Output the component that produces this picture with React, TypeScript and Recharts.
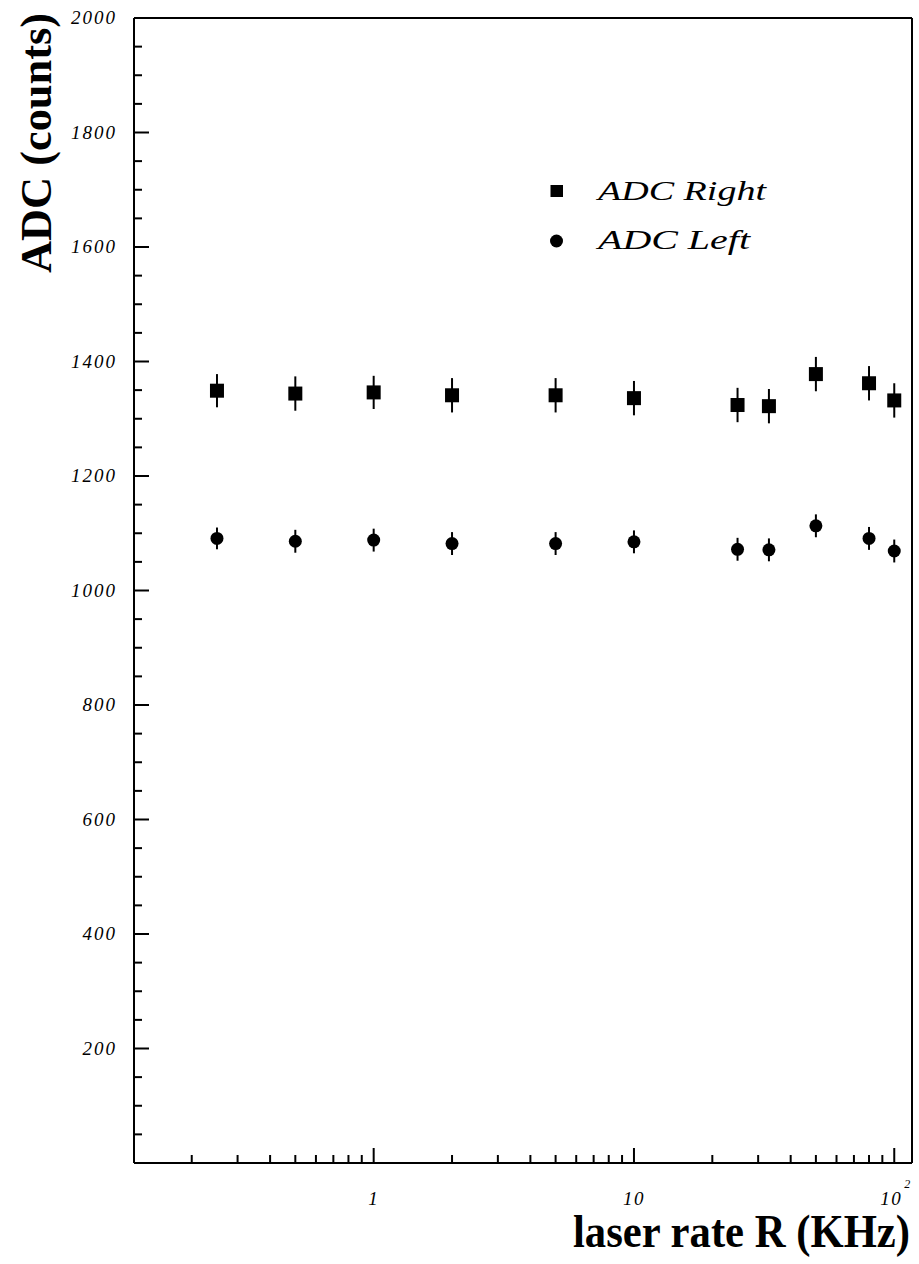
import {
  ErrorBar,
  Label,
  Legend,
  ReferenceLine,
  Scatter,
  ScatterChart,
  XAxis,
  YAxis,
} from "recharts";

// laser rate (KHz) and ADC readings
const rateKHz = [0.25, 0.5, 1, 2, 5, 10, 25, 33, 50, 80, 100];
const adcRight = [1349, 1344, 1346, 1341, 1341, 1336, 1324, 1322, 1378, 1362, 1332];
const adcRightErr = [29, 30, 29, 30, 30, 30, 30, 30, 30, 30, 30];
const adcLeft = [1091, 1086, 1088, 1082, 1082, 1085, 1072, 1071, 1113, 1091, 1069];
const adcLeftErr = [19, 20, 20, 20, 20, 20, 20, 20, 20, 20, 20];

const xMajor = [1, 10, 100];
const xTicks = [
  0.2, 0.3, 0.4, 0.5, 0.6, 0.7, 0.8, 0.9, 1,
  2, 3, 4, 5, 6, 7, 8, 9, 10,
  20, 30, 40, 50, 60, 70, 80, 90, 100,
];
const yTicks = Array.from({ length: 41 }, (_, i) => i * 50);

const X_DOMAIN: [number, number] = [0.12, 117];
const Y_DOMAIN: [number, number] = [0, 2000];
const FONT = "'Liberation Serif', 'Times New Roman', serif";

const rightData = rateKHz.map((r, i) => ({ rate: r, adc: adcRight[i], err: adcRightErr[i] }));
const leftData = rateKHz.map((r, i) => ({ rate: r, adc: adcLeft[i], err: adcLeftErr[i] }));

function XTick({ x, y, payload }: any) {
  const v = payload.value;
  const major = xMajor.includes(v);
  return (
    <g>
      <line x1={x} y1={y} x2={x} y2={y - (major ? 15 : 8)} stroke="#000" strokeWidth={2} />
      {major && v < 100 && (
        <text x={x} y={y + 42} textAnchor="middle" fontFamily={FONT} fontStyle="italic" fontSize={19} letterSpacing={1.5}>
          {v}
        </text>
      )}
      {v === 100 && (
        <text x={x - 14} y={y + 42} fontFamily={FONT} fontStyle="italic" fontSize={19} letterSpacing={1.5}>
          10
          <tspan dx={2} dy={-17} fontSize={12}>2</tspan>
        </text>
      )}
    </g>
  );
}

function YTick({ x, y, payload }: any) {
  const v = payload.value;
  const major = v % 200 === 0;
  return (
    <g>
      <line x1={x} y1={y} x2={x + (major ? 15 : 8)} y2={y} stroke="#000" strokeWidth={2} />
      {major && v > 0 && (
        <text x={x - 17} y={y + 6} textAnchor="end" fontFamily={FONT} fontStyle="italic" fontSize={19} letterSpacing={2}>
          {v}
        </text>
      )}
    </g>
  );
}

function renderLegend() {
  return (
    <svg width={260} height={100}>
      <rect x={12.5} y={17} width={12.5} height={12} fill="#000" />
      <text x={60} y={32} fontFamily={FONT} fontStyle="italic" fontSize={27} textLength={168} lengthAdjust="spacingAndGlyphs">
        ADC Right
      </text>
      <circle cx={18.5} cy={73} r={6.5} fill="#000" />
      <text x={60} y={81} fontFamily={FONT} fontStyle="italic" fontSize={27} textLength={152} lengthAdjust="spacingAndGlyphs">
        ADC Left
      </text>
    </svg>
  );
}

const square = (p: any) => <rect x={p.cx - 7} y={p.cy - 7} width={14} height={14} fill="#000" />;
const dot = (p: any) => <circle cx={p.cx} cy={p.cy} r={6.5} fill="#000" />;

export default function App() {
  // pinned to the page corner so the chart fills the window without scrollbars
  return (
    <div style={{ position: "absolute", left: 0, top: 0, background: "#fff" }}>
      <ScatterChart width={919} height={1264} margin={{ top: 18, right: 6, bottom: 1, left: 14 }}>
        <XAxis
          dataKey="rate"
          type="number"
          scale="log"
          domain={X_DOMAIN}
          allowDataOverflow
          ticks={xTicks}
          interval={0}
          tick={<XTick />}
          tickLine={false}
          tickSize={0}
          tickMargin={0}
          height={100}
          axisLine={{ stroke: "#000", strokeWidth: 2 }}
        >
          <Label
            content={() => (
              <text x={910} y={1247} textAnchor="end" fontFamily={FONT} fontWeight="bold" fontSize={46} textLength={337} lengthAdjust="spacingAndGlyphs">
                laser rate R (KHz)
              </text>
            )}
          />
        </XAxis>
        <YAxis
          dataKey="adc"
          type="number"
          domain={Y_DOMAIN}
          ticks={yTicks}
          interval={0}
          tick={<YTick />}
          tickLine={false}
          tickSize={0}
          tickMargin={0}
          width={120}
          axisLine={{ stroke: "#000", strokeWidth: 2 }}
        >
          <Label
            content={() => (
              <text
                x={51}
                y={143}
                transform="rotate(-90, 51, 143)"
                textAnchor="middle"
                fontFamily={FONT}
                fontWeight="bold"
                fontSize={44}
                textLength={260}
                lengthAdjust="spacingAndGlyphs"
              >
                ADC (counts)
              </text>
            )}
          />
        </YAxis>
        {/* right edge of the frame */}
        <YAxis
          yAxisId="right"
          orientation="right"
          type="number"
          domain={Y_DOMAIN}
          width={1}
          tick={false}
          tickLine={false}
          axisLine={{ stroke: "#000", strokeWidth: 2 }}
        />
        {/* top edge of the frame */}
        <ReferenceLine y={Y_DOMAIN[1]} stroke="#000" strokeWidth={2} ifOverflow="visible" />
        <Legend
          layout="horizontal"
          verticalAlign="middle"
          align="center"
          content={renderLegend}
          wrapperStyle={{ position: "absolute", left: 538, top: 168, width: 260, height: 100 }}
        />
        <Scatter name="ADC Right" data={rightData} shape={square} isAnimationActive={false}>
          <ErrorBar dataKey="err" direction="y" width={0} stroke="#000" strokeWidth={2} />
        </Scatter>
        <Scatter name="ADC Left" data={leftData} shape={dot} isAnimationActive={false}>
          <ErrorBar dataKey="err" direction="y" width={0} stroke="#000" strokeWidth={2} />
        </Scatter>
      </ScatterChart>
    </div>
  );
}
